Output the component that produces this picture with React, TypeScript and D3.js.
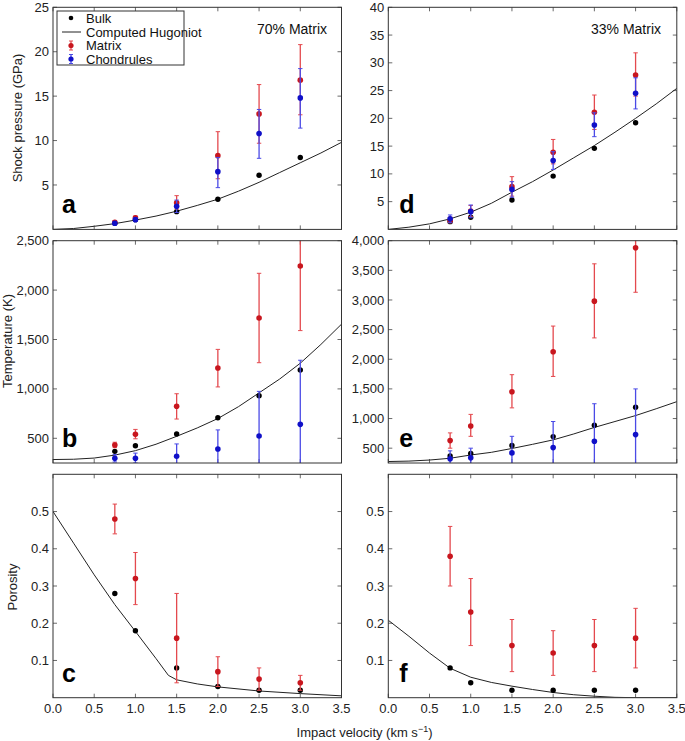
import React, { useEffect, useRef } from "react";
import * as d3 from "d3";

// impact velocities of the simulations (km/s)
const velocity = [0.75, 1.0, 1.5, 2.0, 2.5, 3.0];
const hugX = [0, 0.25, 0.5, 0.75, 1.0, 1.25, 1.5, 1.75, 2.0, 2.25, 2.5, 2.75, 3.0, 3.25, 3.5];

// --- shock pressure (GPa)
const bulkP70 = [0.7, 1.1, 2.0, 3.4, 6.1, 8.1];
const matrixP70 = [0.8, 1.3, 3.0, 8.3, 13.0, 16.8];
const matrixP70Lo = [0.6, 1.1, 2.3, 5.7, 9.7, 12.9];
const matrixP70Hi = [1.0, 1.5, 3.8, 11.0, 16.3, 20.8];
const chondP70 = [0.7, 1.1, 2.6, 6.5, 10.8, 14.8];
const chondP70Lo = [0.5, 0.9, 1.9, 4.7, 8.0, 11.4];
const chondP70Hi = [0.9, 1.3, 3.3, 8.1, 13.5, 18.1];
const hugP70 = [0, 0.1, 0.35, 0.65, 1.05, 1.5, 2.05, 2.7, 3.4, 4.3, 5.3, 6.4, 7.5, 8.6, 9.8];

const bulkP33 = [1.4, 2.2, 5.3, 9.6, 14.6, 19.2];
const matrixP33 = [1.6, 3.3, 7.7, 13.9, 21.1, 27.8];
const matrixP33Lo = [1.2, 2.3, 6.0, 11.8, 18.0, 24.0];
const matrixP33Hi = [2.2, 4.3, 9.5, 16.2, 24.2, 31.8];
const chondP33 = [1.9, 3.2, 7.2, 12.4, 18.8, 24.5];
const chondP33Lo = [1.2, 2.1, 5.8, 10.8, 16.7, 21.7];
const chondP33Hi = [2.6, 4.4, 8.6, 14.0, 21.0, 27.3];
const hugP33 = [0, 0.4, 1.0, 1.9, 3.1, 4.7, 6.7, 8.6, 10.7, 12.9, 15.1, 17.5, 20.0, 22.6, 25.4];

// --- temperature (K)
const bulkT70 = [368, 425, 544, 708, 931, 1191];
const matrixT70 = [432, 540, 824, 1211, 1718, 2244];
const matrixT70Lo = [405, 495, 695, 1020, 1265, 1590];
const matrixT70Hi = [460, 590, 951, 1400, 2170, 2900];
const chondT70 = [298, 298, 318, 392, 523, 641];
const chondT70Lo = [260, 250, 190, 190, 70, -10];
const chondT70Hi = [335, 350, 443, 585, 975, 1290];
const hugT70 = [285, 288, 300, 330, 375, 440, 520, 605, 700, 820, 960, 1100, 1260, 1450, 1655];

const bulkT33 = [370, 409, 544, 695, 887, 1190];
const matrixT33 = [628, 875, 1453, 2126, 2980, 3880];
const matrixT33Lo = [500, 700, 1180, 1710, 2360, 3130];
const matrixT33Hi = [758, 1070, 1740, 2560, 3610, 4650];
const chondT33 = [320, 337, 420, 510, 617, 729];
const chondT33Lo = [200, 200, 130, 70, 0, -40];
const chondT33Hi = [455, 500, 700, 950, 1250, 1500];
const hugT33 = [275, 282, 300, 330, 385, 430, 495, 565, 640, 740, 850, 950, 1050, 1165, 1285];

// --- porosity
const bulkPor70 = [0.28, 0.18, 0.08, 0.03, 0.02, 0.02];
const matrixPor70 = [0.48, 0.32, 0.16, 0.07, 0.05, 0.04];
const matrixPor70Lo = [0.44, 0.25, 0.04, 0.03, 0.02, 0.02];
const matrixPor70Hi = [0.52, 0.39, 0.28, 0.11, 0.08, 0.06];
const hugPor70X = [0, 0.25, 0.5, 0.75, 1.0, 1.25, 1.4, 1.5, 1.75, 2.0, 2.5, 3.0, 3.5];
const hugPor70 = [0.5, 0.415, 0.33, 0.25, 0.178, 0.105, 0.06, 0.048, 0.037, 0.029, 0.018, 0.011, 0.005];

const bulkPor33 = [0.08, 0.04, 0.02, 0.02, 0.02, 0.02];
const matrixPor33 = [0.38, 0.23, 0.14, 0.12, 0.14, 0.16];
const matrixPor33Lo = [0.30, 0.14, 0.07, 0.06, 0.07, 0.08];
const matrixPor33Hi = [0.46, 0.32, 0.21, 0.18, 0.21, 0.24];
const hugPor33X = [0, 0.25, 0.5, 0.75, 1.0, 1.25, 1.5, 1.75, 2.0, 2.25, 2.5, 2.75, 3.0, 3.5];
const hugPor33 = [0.208, 0.165, 0.12, 0.079, 0.055, 0.041, 0.031, 0.022, 0.014, 0.008, 0.004, 0.001, 0, 0];

const xTicks = [0, 0.5, 1.0, 1.5, 2.0, 2.5, 3.0, 3.5];
const pTicks70 = [5, 10, 15, 20, 25];
const pTicks33 = [5, 10, 15, 20, 25, 30, 35, 40];
const tTicks70 = [500, 1000, 1500, 2000, 2500];
const tTicks33 = [500, 1000, 1500, 2000, 2500, 3000, 3500, 4000];
const porTicks = [0.1, 0.2, 0.3, 0.4, 0.5];

const FONT = "Liberation Sans, Arial, Helvetica, sans-serif";
const RED = "#c8161e";
const RED_BAR = "#e4494e";
const BLUE = "#1010c8";
const BLUE_BAR = "#4a4ae6";

const cols = [53, 388.3];
const plotW = 288.5;
const rows = [
  [7.3, 229.4],
  [240.7, 463],
  [474.3, 697.7],
];

type Series = { y: number[]; lo: number[]; hi: number[] };

const panels = [
  {
    id: "a", col: 0, row: 0, domain: [0, 25], ticks: pTicks70, fmt: d3.format("d"),
    bulk: bulkP70, hugX: hugX, hug: hugP70,
    matrix: { y: matrixP70, lo: matrixP70Lo, hi: matrixP70Hi },
    chond: { y: chondP70, lo: chondP70Lo, hi: chondP70Hi },
  },
  {
    id: "d", col: 1, row: 0, domain: [0, 40], ticks: pTicks33, fmt: d3.format("d"),
    bulk: bulkP33, hugX: hugX, hug: hugP33,
    matrix: { y: matrixP33, lo: matrixP33Lo, hi: matrixP33Hi },
    chond: { y: chondP33, lo: chondP33Lo, hi: chondP33Hi },
  },
  {
    id: "b", col: 0, row: 1, domain: [250, 2500], ticks: tTicks70, fmt: d3.format(","),
    bulk: bulkT70, hugX: hugX, hug: hugT70,
    matrix: { y: matrixT70, lo: matrixT70Lo, hi: matrixT70Hi },
    chond: { y: chondT70, lo: chondT70Lo, hi: chondT70Hi },
  },
  {
    id: "e", col: 1, row: 1, domain: [250, 4000], ticks: tTicks33, fmt: d3.format(","),
    bulk: bulkT33, hugX: hugX, hug: hugT33,
    matrix: { y: matrixT33, lo: matrixT33Lo, hi: matrixT33Hi },
    chond: { y: chondT33, lo: chondT33Lo, hi: chondT33Hi },
  },
  {
    id: "c", col: 0, row: 2, domain: [0, 0.6], ticks: porTicks, fmt: d3.format(".1f"),
    bulk: bulkPor70, hugX: hugPor70X, hug: hugPor70,
    matrix: { y: matrixPor70, lo: matrixPor70Lo, hi: matrixPor70Hi },
    chond: null as Series | null,
  },
  {
    id: "f", col: 1, row: 2, domain: [0, 0.6], ticks: porTicks, fmt: d3.format(".1f"),
    bulk: bulkPor33, hugX: hugPor33X, hug: hugPor33,
    matrix: { y: matrixPor33, lo: matrixPor33Lo, hi: matrixPor33Hi },
    chond: null as Series | null,
  },
];

function drawErrSeries(g: any, x: any, y: any, s: Series, barColor: string, dotColor: string) {
  velocity.forEach((v, i) => {
    const cx = x(v);
    g.append("line")
      .attr("x1", cx).attr("x2", cx)
      .attr("y1", y(s.lo[i])).attr("y2", y(s.hi[i]))
      .attr("stroke", barColor).attr("stroke-width", 1.3);
    [s.lo[i], s.hi[i]].forEach((e) => {
      g.append("line")
        .attr("x1", cx - 2.2).attr("x2", cx + 2.2)
        .attr("y1", y(e)).attr("y2", y(e))
        .attr("stroke", barColor).attr("stroke-width", 1);
    });
  });
  g.selectAll(null)
    .data(s.y)
    .join("circle")
    .attr("cx", (_d: number, i: number) => x(velocity[i]))
    .attr("cy", (d: number) => y(d))
    .attr("r", 2.8)
    .attr("fill", dotColor);
}

export default function App() {
  const svgRef = useRef<SVGSVGElement>(null);

  useEffect(() => {
    const svg = d3.select(svgRef.current);
    svg.selectAll("*").remove();

    panels.forEach((p) => {
      const x0 = cols[p.col];
      const [top, bottom] = rows[p.row];
      const x = d3.scaleLinear().domain([0, 3.5]).range([x0, x0 + plotW]);
      const y = d3.scaleLinear().domain(p.domain).range([bottom, top]);

      const clipId = "clip-" + p.id;
      svg.append("clipPath").attr("id", clipId)
        .append("rect")
        .attr("x", x0).attr("y", top)
        .attr("width", plotW).attr("height", bottom - top);

      const g = svg.append("g");

      // inward ticks on all four sides
      xTicks.forEach((t) => {
        [[bottom, -4], [top, 4]].forEach(([yy, dl]) => {
          g.append("line")
            .attr("x1", x(t)).attr("x2", x(t))
            .attr("y1", yy).attr("y2", yy + dl)
            .attr("stroke", "#444").attr("stroke-width", 0.8);
        });
      });
      p.ticks.forEach((t) => {
        [[x0, 4], [x0 + plotW, -4]].forEach(([xx, dl]) => {
          g.append("line")
            .attr("x1", xx).attr("x2", xx + dl)
            .attr("y1", y(t)).attr("y2", y(t))
            .attr("stroke", "#444").attr("stroke-width", 0.8);
        });
        g.append("text")
          .attr("x", x0 - 4)
          .attr("y", y(t))
          .attr("dy", "0.35em")
          .attr("text-anchor", "end")
          .attr("font-family", FONT)
          .attr("font-size", 13)
          .attr("fill", "#222")
          .text(p.fmt(t));
      });

      if (p.row === 2) {
        xTicks.forEach((t) => {
          g.append("text")
            .attr("x", x(t))
            .attr("y", bottom + 15)
            .attr("text-anchor", "middle")
            .attr("font-family", FONT)
            .attr("font-size", 13)
            .attr("fill", "#222")
            .text(d3.format(".1f")(t));
        });
      }

      const data = g.append("g").attr("clip-path", `url(#${clipId})`);

      const line = d3.line<number>()
        .x((_d, i) => x(p.hugX[i]))
        .y((d) => y(d));
      data.append("path")
        .attr("d", line(p.hug))
        .attr("fill", "none")
        .attr("stroke", "#222")
        .attr("stroke-width", 1);

      data.selectAll(null)
        .data(p.bulk)
        .join("circle")
        .attr("cx", (_d, i) => x(velocity[i]))
        .attr("cy", (d) => y(d))
        .attr("r", 2.7)
        .attr("fill", "#000");

      drawErrSeries(data, x, y, p.matrix, RED_BAR, RED);
      if (p.chond) drawErrSeries(data, x, y, p.chond, BLUE_BAR, BLUE);

      // frame
      g.append("rect")
        .attr("x", x0).attr("y", top)
        .attr("width", plotW).attr("height", bottom - top)
        .attr("fill", "none")
        .attr("stroke", "#333")
        .attr("stroke-width", 1);

      // panel letter
      g.append("text")
        .attr("x", x0 + (p.col === 0 ? 9 : 11))
        .attr("y", bottom - 16)
        .attr("font-family", FONT)
        .attr("font-weight", "bold")
        .attr("font-size", 25)
        .attr("fill", "#000")
        .text(p.id);
    });

    // composition labels
    [["70% Matrix", 257], ["33% Matrix", 591]].forEach(([t, xx]) => {
      svg.append("text")
        .attr("x", xx as number).attr("y", 34)
        .attr("font-family", FONT).attr("font-size", 14)
        .attr("fill", "#111")
        .text(t as string);
    });

    // axis titles
    const yTitles: [string, number, number][] = [
      ["Shock pressure (GPa)", 22, 118],
      ["Temperature (K)", 12, 341],
      ["Porosity", 17, 587],
    ];
    yTitles.forEach(([t, xx, yy]) => {
      svg.append("text")
        .attr("transform", `translate(${xx},${yy}) rotate(-90)`)
        .attr("text-anchor", "middle")
        .attr("font-family", FONT).attr("font-size", 13)
        .attr("fill", "#222")
        .text(t);
    });

    const xt = svg.append("text")
      .attr("x", 364.5).attr("y", 737)
      .attr("text-anchor", "middle")
      .attr("font-family", FONT).attr("font-size", 13)
      .attr("fill", "#222");
    xt.append("tspan").text("Impact velocity (km s");
    xt.append("tspan").attr("dy", -5).attr("font-size", 9).text("\u22121");
    xt.append("tspan").attr("dy", 5).text(")");

    // legend
    const lg = svg.append("g");
    lg.append("rect")
      .attr("x", 57).attr("y", 11)
      .attr("width", 127).attr("height", 54)
      .attr("fill", "#fff").attr("stroke", "#333").attr("stroke-width", 1);
    const entries = ["Bulk", "Computed Hugoniot", "Matrix", "Chondrules"];
    const ly = [18, 32, 45.5, 59];
    entries.forEach((e, i) => {
      lg.append("text")
        .attr("x", 86).attr("y", ly[i])
        .attr("dy", "0.35em")
        .attr("font-family", FONT).attr("font-size", 13)
        .attr("fill", "#111")
        .text(e);
    });
    lg.append("circle").attr("cx", 71).attr("cy", ly[0]).attr("r", 2.3).attr("fill", "#000");
    lg.append("line").attr("x1", 62).attr("x2", 81).attr("y1", ly[1]).attr("y2", ly[1])
      .attr("stroke", "#222").attr("stroke-width", 1);
    [[RED_BAR, RED, ly[2]], [BLUE_BAR, BLUE, ly[3]]].forEach(([bc, dc, yy]) => {
      const cy = yy as number;
      lg.append("line").attr("x1", 71).attr("x2", 71).attr("y1", cy - 4.5).attr("y2", cy + 4.5)
        .attr("stroke", bc as string).attr("stroke-width", 1.3);
      [cy - 4.5, cy + 4.5].forEach((e) => {
        lg.append("line").attr("x1", 69).attr("x2", 73).attr("y1", e).attr("y2", e)
          .attr("stroke", bc as string).attr("stroke-width", 1);
      });
      lg.append("circle").attr("cx", 71).attr("cy", cy).attr("r", 2.6).attr("fill", dc as string);
    });
  }, []);

  return (
    <svg
      ref={svgRef}
      width={685}
      height={741}
      style={{ position: "absolute", left: 0, top: 0, background: "#fff" }}
    />
  );
}
